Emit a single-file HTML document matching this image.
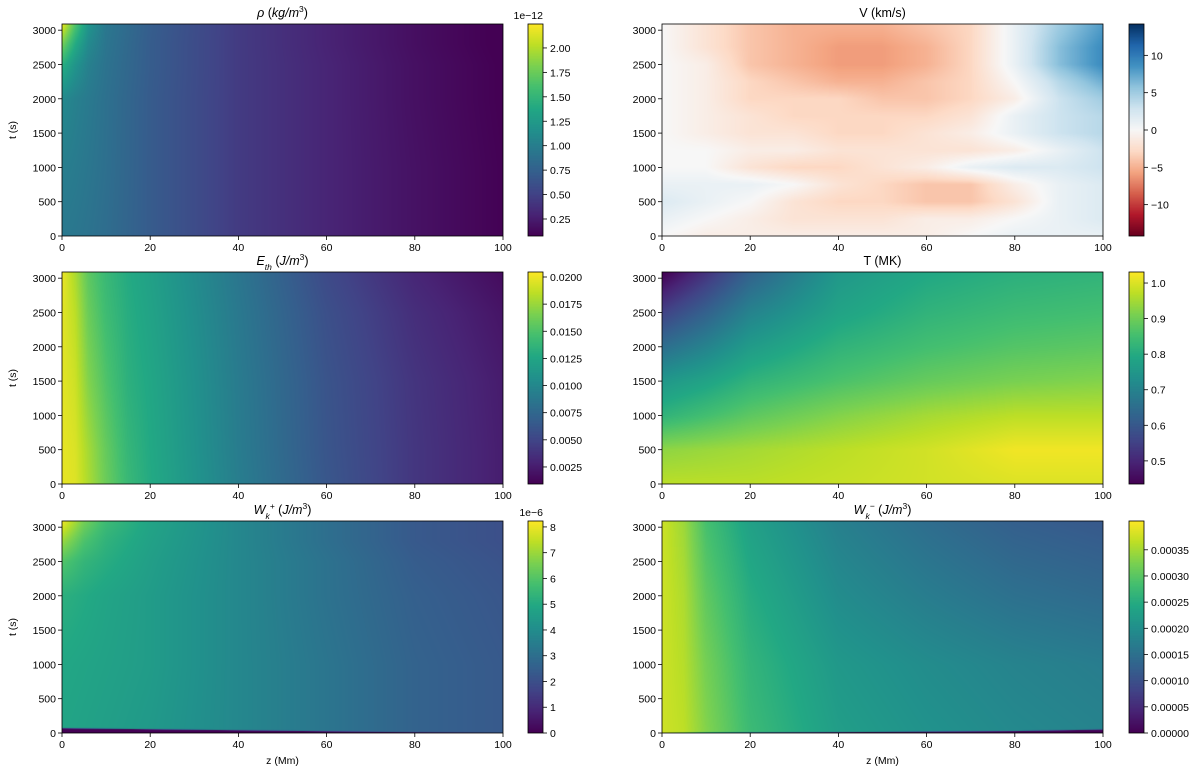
<!DOCTYPE html>
<html><head><meta charset="utf-8"><style>
html,body{margin:0;padding:0;background:#fff;width:1200px;height:773px;overflow:hidden;font-family:"Liberation Sans","DejaVu Sans",sans-serif}
canvas{position:absolute;display:block}
svg{position:absolute;left:0;top:0}
</style></head><body>
<div id="root"></div>
<script>
// ---- data arrays ----
const tTicks = [0,500,1000,1500,2000,2500,3000];
const zTicks = [0,20,40,60,80,100];
const T_MAX = 3090;
// rho (1e-12 kg/m^3)
const rhoZ = [0,3,6,10,20,40,60,80,100];
const rhoT = [0,1000,2000,2500,2800,3090];
const rhoVals = [
 [0.95,0.93,0.90,0.85,0.70,0.45,0.30,0.18,0.08],
 [1.00,0.97,0.93,0.87,0.70,0.45,0.30,0.18,0.08],
 [1.10,1.02,0.96,0.88,0.70,0.45,0.30,0.17,0.07],
 [1.45,1.20,1.02,0.90,0.71,0.45,0.30,0.17,0.07],
 [1.80,1.40,1.10,0.92,0.71,0.45,0.29,0.16,0.06],
 [2.20,1.65,1.20,0.94,0.72,0.45,0.29,0.16,0.06]];
const rhoTicks = [0.25,0.5,0.75,1.0,1.25,1.5,1.75,2.0];
const rhoTickLabels = ["0.25","0.50","0.75","1.00","1.25","1.50","1.75","2.00"];
// V (km/s)
const vZ = [0,10,20,30,40,50,60,70,80,90,100];
const vT = [0,250,500,750,1000,1250,1500,1750,2000,2250,2500,2750,3090];
const vVals = [
 [0,-1,-1,-1,-1,-1,-1,0,1,1,1],
 [1,0,-1,-2,-2,-2,-1,-1,0,1,2],
 [2,1,0,-2,-3,-3,-4,-4,-2,1,2],
 [1,1,1,0,-2,-3,-4,-4,-1,1,2],
 [0,0,-2,-3,-3,-2,-1,1,2,2,3],
 [0,0,-1,-1,-2,-2,-2,-2,-1,1,3],
 [0,-1,-2,-2,-3,-3,-2,-1,1,3,4],
 [0,-1,-2,-3,-3,-3,-3,-2,1,3,4],
 [0,-1,-3,-3,-3,-4,-4,-3,-1,3,5],
 [0,-1,-3,-4,-5,-5,-4,-3,0,4,7],
 [0,-1,-4,-5,-6,-6,-5,-3,1,6,9],
 [0,-2,-4,-5,-6,-6,-5,-3,1,6,9],
 [0,-2,-4,-5,-5,-5,-4,-3,1,5,8]];
const vTicks = [-10,-5,0,5,10];
const vTickLabels = ["\u221210","\u22125","0","5","10"];
// Eth (J/m^3)
const eZ = [0,3,6,10,15,20,40,60,80,100];
const eT = [0,500,1500,2500,3090];
const eVals = [
 [0.0198,0.0195,0.0180,0.0160,0.0140,0.0128,0.0092,0.0062,0.0040,0.0025],
 [0.0198,0.0194,0.0178,0.0158,0.0138,0.0127,0.0091,0.0061,0.0040,0.0025],
 [0.0197,0.0190,0.0168,0.0150,0.0133,0.0125,0.0090,0.0060,0.0039,0.0024],
 [0.0197,0.0185,0.0160,0.0143,0.0130,0.0122,0.0088,0.0057,0.0035,0.0020],
 [0.0200,0.0180,0.0155,0.0140,0.0128,0.0120,0.0086,0.0053,0.0030,0.0015]];
const eTicks = [0.0025,0.005,0.0075,0.01,0.0125,0.015,0.0175,0.02];
const eTickLabels = ["0.0025","0.0050","0.0075","0.0100","0.0125","0.0150","0.0175","0.0200"];
// T (MK)
const tempZ = [0,10,20,40,60,80,100];
const tempT = [0,500,1000,1500,2000,2500,3090];
const tempVals = [
 [0.97,0.97,0.97,0.98,0.99,1.00,1.00],
 [0.93,0.94,0.95,0.97,0.99,1.02,1.02],
 [0.82,0.85,0.88,0.92,0.95,0.97,0.97],
 [0.75,0.78,0.82,0.86,0.89,0.91,0.92],
 [0.65,0.70,0.76,0.82,0.85,0.87,0.88],
 [0.55,0.62,0.70,0.78,0.82,0.84,0.85],
 [0.43,0.52,0.62,0.75,0.79,0.81,0.82]];
const tempTicks = [0.5,0.6,0.7,0.8,0.9,1.0];
const tempTickLabels = ["0.5","0.6","0.7","0.8","0.9","1.0"];
// Wk+ (1e-6 J/m^3)
const wpZ = [0,5,10,20,40,60,80,100];
const wpT = [0,1000,2000,2500,2800,3090];
const wpVals = [
 [4.8,4.7,4.6,4.4,3.8,3.2,2.6,2.3],
 [4.9,4.8,4.7,4.5,3.8,3.2,2.6,2.3],
 [5.2,5.0,4.8,4.5,3.8,3.1,2.5,2.2],
 [6.0,5.4,5.1,4.6,3.8,3.1,2.4,2.1],
 [7.0,5.9,5.3,4.7,3.8,3.0,2.3,2.0],
 [8.1,6.5,5.6,4.8,3.8,3.0,2.3,2.0]];
const wpStripZ = [0,40,80,100];
const wpStripT = [70,40,10,0];
const wpTicks = [0,1,2,3,4,5,6,7,8];
const wpTickLabels = ["0","1","2","3","4","5","6","7","8"];
// Wk- (J/m^3)
const wmZ = [0,5,10,20,40,60,80,100];
const wmT = [0,1000,2000,3090];
const wmVals = [
 [0.000375,0.000365,0.000330,0.000275,0.000225,0.000205,0.000190,0.000180],
 [0.000375,0.000360,0.000320,0.000265,0.000215,0.000195,0.000180,0.000170],
 [0.000375,0.000355,0.000305,0.000250,0.000195,0.000170,0.000150,0.000140],
 [0.000375,0.000345,0.000285,0.000230,0.000175,0.000145,0.000122,0.000112]];
const wmStripZ = [0,40,80,100];
const wmStripT = [0,12,28,50];
const wmTicks = [0,0.00005,0.0001,0.00015,0.0002,0.00025,0.0003,0.00035];
const wmTickLabels = ["0.00000","0.00005","0.00010","0.00015","0.00020","0.00025","0.00030","0.00035"];

// ---- colormaps ----
const viridis = ["#440154","#482475","#414487","#355f8d","#2a788e","#21918c","#22a884","#44bf70","#7ad151","#bddf26","#fde725"];
const rdbu = ["#67001f","#b2182b","#d6604d","#f4a582","#fddbc7","#f7f7f7","#d1e5f0","#92c5de","#4393c3","#2166ac","#053061"];
function hex(h){return [parseInt(h.substr(1,2),16),parseInt(h.substr(3,2),16),parseInt(h.substr(5,2),16)];}
function cmap(stops,f){f=Math.max(0,Math.min(1,f));const n=stops.length-1;const i=Math.min(n-1,Math.floor(f*n));const r=f*n-i;const a=hex(stops[i]),b=hex(stops[i+1]);return [a[0]+(b[0]-a[0])*r,a[1]+(b[1]-a[1])*r,a[2]+(b[2]-a[2])*r];}
function locate(arr,v){let i=0;while(i<arr.length-2&&v>arr[i+1])i++;let r=(v-arr[i])/(arr[i+1]-arr[i]);return [i,Math.max(0,Math.min(1,r))];}
function interp1(xs,ys,v){const [i,r]=locate(xs,v);return ys[i]+(ys[i+1]-ys[i])*r;}
function bilin(zs,ts,vals,z,t){const [i,rx]=locate(zs,z);const [j,ry]=locate(ts,t);
 const a=vals[j][i],b=vals[j][i+1],c=vals[j+1][i],d=vals[j+1][i+1];
 return (a*(1-rx)+b*rx)*(1-ry)+(c*(1-rx)+d*rx)*ry;}

const NS="http://www.w3.org/2000/svg";
const root=document.getElementById('root');
const svg=document.createElementNS(NS,'svg');
svg.setAttribute('width','1200');svg.setAttribute('height','773');


function mk(tag,attrs,parent){const e=document.createElementNS(NS,tag);for(const k in attrs)e.setAttribute(k,attrs[k]);(parent||svg).appendChild(e);return e;}

const panels=[
 {name:'rho',x:62,y:24,zs:rhoZ,ts:rhoT,vals:rhoVals,vmin:0.076,vmax:2.245,cm:viridis,cbx:528,ticks:rhoTicks,labels:rhoTickLabels,exp:'1e\u221212',title:[['\u03c1',1,0],[' (',0,0],['kg/m',1,0],['3',0,1],[')',0,0]],ylab:true,xlab:false},
 {name:'velocity',x:662,y:24,zs:vZ,ts:vT,vals:vVals,vmin:-14.2,vmax:14.2,cm:rdbu,cbx:1129,ticks:vTicks,labels:vTickLabels,exp:null,title:[['V (km/s)',0,0]],ylab:false,xlab:false},
 {name:'thermal-energy',x:62,y:272,zs:eZ,ts:eT,vals:eVals,vmin:0.00093,vmax:0.02046,cm:viridis,cbx:528,ticks:eTicks,labels:eTickLabels,exp:null,title:[['E',1,0],['th',1,-1],[' (',0,0],['J/m',1,0],['3',0,1],[')',0,0]],ylab:true,xlab:false},
 {name:'temperature',x:662,y:272,zs:tempZ,ts:tempT,vals:tempVals,vmin:0.435,vmax:1.031,cm:viridis,cbx:1129,ticks:tempTicks,labels:tempTickLabels,exp:null,title:[['T (MK)',0,0]],ylab:false,xlab:false},
 {name:'wave-energy-plus',x:62,y:521,zs:wpZ,ts:wpT,vals:wpVals,vmin:0,vmax:8.23,cm:viridis,cbx:528,ticks:wpTicks,labels:wpTickLabels,exp:'1e\u22126',strip:[wpStripZ,wpStripT],title:[['W',1,0],['k',1,-1],['+',1,1],['  (',0,0],['J/m',1,0],['3',0,1],[')',0,0]],ylab:true,xlab:true},
 {name:'wave-energy-minus',x:662,y:521,zs:wmZ,ts:wmT,vals:wmVals,vmin:0,vmax:0.000405,cm:viridis,cbx:1129,ticks:wmTicks,labels:wmTickLabels,exp:null,strip:[wmStripZ,wmStripT],title:[['W',1,0],['k',1,-1],['\u2212',1,1],['  (',0,0],['J/m',1,0],['3',0,1],[')',0,0]],ylab:false,xlab:true}
];
const W=441,H=212,CBW=15;

panels.forEach(p=>{
 const cv=document.createElement('canvas');cv.width=W;cv.height=H;
 cv.style.left=p.x+'px';cv.style.top=p.y+'px';
 
 
 root.appendChild(cv);
 const ctx=cv.getContext('2d');const img=ctx.createImageData(W,H);
 for(let py=0;py<H;py++){const t=(H-py-0.5)/H*T_MAX;
  for(let px=0;px<W;px++){const z=(px+0.5)/W*100;
   let v=bilin(p.zs,p.ts,p.vals,z,t);
   if(p.strip){const b=interp1(p.strip[0],p.strip[1],z);const cov=Math.max(0,Math.min(1,(b-(t-0.5*T_MAX/H))/(T_MAX/H)));v=v*(1-cov)+p.vmin*cov;}
   const c=cmap(p.cm,(v-p.vmin)/(p.vmax-p.vmin));const k=(py*W+px)*4;
   img.data[k]=c[0];img.data[k+1]=c[1];img.data[k+2]=c[2];img.data[k+3]=255;}}
 ctx.putImageData(img,0,0);
 const cb=document.createElement('canvas');cb.width=CBW;cb.height=H;
 cb.style.left=p.cbx+'px';cb.style.top=p.y+'px';
 
 
 root.appendChild(cb);
 const cx=cb.getContext('2d');
 for(let py=0;py<H;py++){const c=cmap(p.cm,(H-py-0.5)/H);cx.fillStyle=`rgb(${c[0]|0},${c[1]|0},${c[2]|0})`;cx.fillRect(0,py,CBW,1);}
 const g=mk('g',{});
 
 
 mk('rect',{x:p.x,y:p.y,width:W,height:H,fill:'none',stroke:'#000','stroke-width':0.8},g);
 const xs=z=>p.x+z/100*W, ys=t=>p.y+H-t/T_MAX*H;
 zTicks.forEach(z=>{const X=xs(z);mk('line',{x1:X,x2:X,y1:p.y+H,y2:p.y+H+4,stroke:'#000','stroke-width':0.8},g);
  const tx=mk('text',{x:X,y:p.y+H+15,'text-anchor':'middle','font-size':10.5,fill:'#000'},g);tx.textContent=z;});
 tTicks.forEach(t=>{const Y=ys(t);mk('line',{x1:p.x-4,x2:p.x,y1:Y,y2:Y,stroke:'#000','stroke-width':0.8},g);
  const tx=mk('text',{x:p.x-6,y:Y+4,'text-anchor':'end','font-size':10.5,fill:'#000'},g);tx.textContent=t;});
 if(p.ylab){const tl=mk('text',{x:0,y:0,transform:`translate(${p.x-46},${p.y+H/2}) rotate(-90)`,'text-anchor':'middle','font-size':10.5,fill:'#000'},g);tl.textContent='t (s)';
  }
 if(p.xlab){const xl=mk('text',{x:p.x+W/2,y:p.y+H+31,'text-anchor':'middle','font-size':10.5,fill:'#000'},g);xl.textContent='z (Mm)';
  }
 const tt=mk('text',{x:p.x+W/2,y:p.y-7,'text-anchor':'middle','font-size':12.5,fill:'#000'},g);
 
 p.title.forEach(([s,it,sh])=>{const ts=mk('tspan',{},tt);ts.textContent=s;if(it)ts.setAttribute('font-style','italic');
  if(sh===1){ts.setAttribute('font-size','8.5');ts.setAttribute('baseline-shift','super');}
  if(sh===-1){ts.setAttribute('font-size','8.5');ts.setAttribute('baseline-shift','sub');}});
 const cg=mk('g',{});
 
 
 mk('rect',{x:p.cbx,y:p.y,width:CBW,height:H,fill:'none',stroke:'#000','stroke-width':0.8},cg);
 const cy=v=>p.y+H-(v-p.vmin)/(p.vmax-p.vmin)*H;
 p.ticks.forEach((v,i)=>{const Y=cy(v);mk('line',{x1:p.cbx+CBW,x2:p.cbx+CBW+4,y1:Y,y2:Y,stroke:'#000','stroke-width':0.8},cg);
  const tx=mk('text',{x:p.cbx+CBW+7,y:Y+4,'font-size':10.5,fill:'#000'},cg);tx.textContent=p.labels[i];});
 if(p.exp){const ex=mk('text',{x:p.cbx+CBW,y:p.y-5,'text-anchor':'end','font-size':10.5,fill:'#000'},cg);ex.textContent=p.exp;}
});
root.appendChild(svg);
</script>
</body></html>
